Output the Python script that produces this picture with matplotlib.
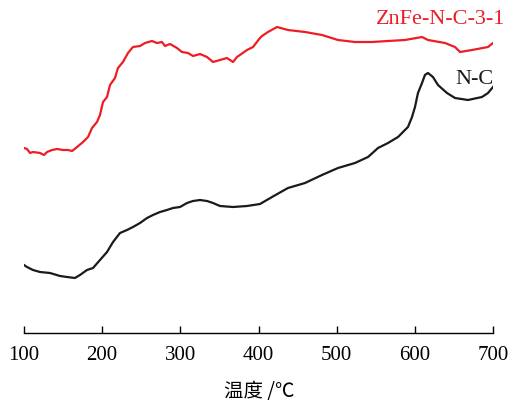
import matplotlib
matplotlib.use("Agg")
import matplotlib.pyplot as plt

# ZnFe-N-C-3-1 (red)
red_x = [100, 103.8, 107.7, 111.5, 120.5, 125.6, 129.5, 135.9, 142.3, 150, 156.4, 161.5, 167.9, 175.5, 181.9, 187, 193.4, 197.2,
         201.1, 206.2, 210, 216.4, 220.2, 226.6, 233, 239.4, 248.4, 254.8, 263.7, 270.1, 276.5, 280.4, 286.8, 295.7,
         302.1, 309.8, 316.2, 325.2, 334.1, 341.8, 350.7, 359.7, 367.4, 372.5, 385.3, 393, 401.9, 404.5, 412.1,
         423.7, 437.7, 459.5, 481.2, 501.7, 523.4, 545.2, 565.7, 587.4, 609.2, 616.8, 638.6, 651.4, 657.8, 673.1,
         693.6, 700]
red_py = [148, 149, 153, 152, 153, 155, 152, 150, 149, 150, 150, 151, 147, 142, 137, 128, 122, 115,
          102, 97, 85, 78, 68, 62, 53, 47, 46, 43, 41, 43, 42, 46, 44, 48,
          52, 53, 56, 54, 57, 62, 60, 58, 62, 57, 50, 47, 38, 36, 32,
          27, 30, 32, 35, 40, 42, 42, 41, 40, 37, 40, 43, 47, 52, 50,
          47, 43]
red_y = [340 - v for v in red_py]

# N-C (black)
blk_x = [100, 103.8, 111.5, 120.5, 133.3, 146.1, 155, 165.2, 171.6, 180.6, 188.3, 197.2, 206.2, 213.9, 222.8,
         231.8, 239.4, 248.4, 257.4, 265, 274, 282.9, 290.6, 299.6, 308.5, 316.2, 325.2, 334.1, 341.8, 350.7,
         367.4, 385.3, 401.9, 417.3, 437.7, 459.5, 481.2, 501.7, 523.4, 540.1, 552.9, 565.7, 578.5, 591.2,
         596.4, 600.2, 604, 609.2, 612.9, 616.8, 623.2, 629.6, 641.1, 651.4, 668, 685.9, 693.6, 700]
blk_py = [265, 267, 270, 272, 273, 276, 277, 278, 275, 270, 268, 260, 252, 242, 233,
          230, 227, 223, 218, 215, 212, 210, 208, 207, 203, 201, 200, 201, 203, 206,
          207, 206, 204, 197, 188, 183, 175, 168, 163, 157, 148, 143, 137, 127,
          117, 107, 93, 83, 75, 73, 77, 85, 93, 98, 100, 97, 93, 87]
blk_y = [340 - v for v in blk_py]

xticks = [100, 200, 300, 400, 500, 600, 700]

plt.rcParams['font.family'] = ['Liberation Serif', 'Noto Sans CJK SC']

fig = plt.figure(figsize=(5.15, 4.05), dpi=100)
ax = fig.add_axes([24/515, (405-333)/405, 469/515, (333-5)/405])

ax.plot(red_x, red_y, color='#ee1c25', lw=1.6)
ax.plot(blk_x, blk_y, color='#1a1a1a', lw=1.6)

ax.set_xlim(100, 700)
ax.set_ylim(7, 335)
for s in ['top', 'right', 'left']:
    ax.spines[s].set_visible(False)
ax.spines['bottom'].set_linewidth(1.0)
ax.set_yticks([])
ax.set_xticks(xticks)
ax.set_xticklabels([str(t) for t in xticks], fontsize=15)
ax.tick_params(axis='x', direction='in', length=5, width=1, pad=9)

fig.text(505/515, 1 - 20/405, 'ZnFe-N-C-3-1', color='#ee1c25', fontsize=16, ha='right', va='center')
fig.text(494/515, 1 - 79/405, 'N-C', color='#1a1a1a', fontsize=16, ha='right', va='center')

fig.text(259/515, 1 - 391/405, '温度 /℃', ha='center', va='center', fontsize=14,
         family=['Noto Sans CJK SC', 'DejaVu Sans'])

fig.savefig('out.png', dpi=100)
